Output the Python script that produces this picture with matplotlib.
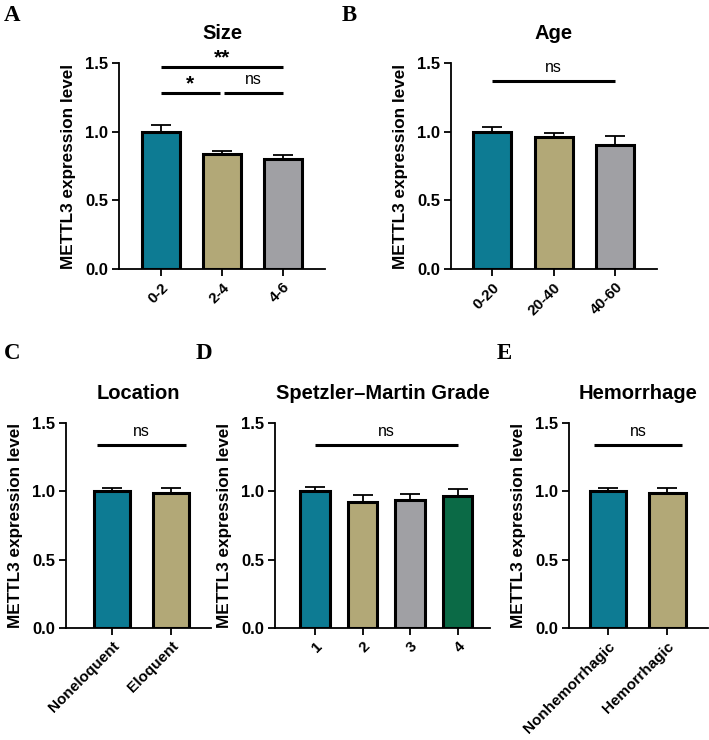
import matplotlib
matplotlib.use("Agg")
import matplotlib.pyplot as plt

plt.rcParams['font.family'] = ['Liberation Sans', 'DejaVu Sans']

# ---------------- data ----------------
size_cats = ["0-2", "2-4", "4-6"]
size_vals = [1.00, 0.84, 0.80]
size_errs = [0.045, 0.022, 0.03]

age_cats = ["0-20", "20-40", "40-60"]
age_vals = [1.00, 0.96, 0.905]
age_errs = [0.035, 0.032, 0.06]

loc_cats = ["Noneloquent", "Eloquent"]
loc_vals = [1.00, 0.99]
loc_errs = [0.027, 0.035]

grade_cats = ["1", "2", "3", "4"]
grade_vals = [1.00, 0.925, 0.935, 0.965]
grade_errs = [0.035, 0.045, 0.042, 0.055]

hem_cats = ["Nonhemorrhagic", "Hemorrhagic"]
hem_vals = [1.00, 0.99]
hem_errs = [0.027, 0.037]

colors = ["#0D7B93", "#B2A877", "#A0A0A4", "#0B6A46"]

W, H = 709, 740
fig = plt.figure(figsize=(W / 100, H / 100), dpi=100)


def make_ax(left, right, bottom, top):
    return fig.add_axes([left / W, 1 - bottom / H, (right - left) / W, (bottom - top) / H])


def panel(ax, cats, vals, errs, title, xlim, brackets):
    x = list(range(len(cats)))
    ax.bar(x, vals, width=0.62, color=colors[:len(cats)], edgecolor="black",
           linewidth=2.2, zorder=2)
    ax.errorbar(x, vals, yerr=[[0] * len(errs), errs], fmt="none", ecolor="black",
                elinewidth=1.3, capsize=7.5, capthick=1.3, zorder=1)
    ax.set_xlim(*xlim)
    ax.set_ylim(0, 1.5)
    ax.set_yticks([0.0, 0.5, 1.0, 1.5])
    ax.set_yticklabels(["0.0", "0.5", "1.0", "1.5"], fontweight="bold", fontsize=12)
    ax.set_xticks(x)
    ax.set_xticklabels(cats, rotation=45, ha="right", rotation_mode="anchor",
                       fontweight="bold", fontsize=11)
    for s in ["top", "right"]:
        ax.spines[s].set_visible(False)
    for s in ["left", "bottom"]:
        ax.spines[s].set_linewidth(1.3)
    ax.tick_params(axis="both", direction="out", length=5, width=1.3, pad=3)
    ax.set_ylabel("METTL3 expression level", fontweight="bold", fontsize=12.3, labelpad=6)
    ax.set_title(title, fontweight="bold", fontsize=14.5, pad=17)
    for (x0, x1, y, label) in brackets:
        ax.plot([x0, x1], [y, y], color="black", lw=2.2, clip_on=False,
                solid_capstyle="butt")
        if "*" in label:
            ax.text((x0 + x1) / 2, y + 0.07, label, ha="center", va="center",
                    fontsize=15, fontweight="bold", clip_on=False)
        else:
            ax.text((x0 + x1) / 2, y + 0.1, label, ha="center", va="center",
                    fontsize=11.5, clip_on=False)


axA = make_ax(119, 325, 269, 63)
panel(axA, size_cats, size_vals, size_errs, "Size", (-0.69, 2.69),
      [(0, 2, 1.47, "**"), (0, 0.96, 1.28, "*"), (1.04, 2, 1.28, "ns")])

axB = make_ax(451, 657, 269, 63)
panel(axB, age_cats, age_vals, age_errs, "Age", (-0.67, 2.68),
      [(0, 2, 1.37, "ns")])

axC = make_ax(66, 211, 628, 423)
panel(axC, loc_cats, loc_vals, loc_errs, "Location", (-0.78, 1.68),
      [(-0.25, 1.25, 1.34, "ns")])

axD = make_ax(275, 490, 628, 423)
panel(axD, grade_cats, grade_vals, grade_errs, "Spetzler\u2013Martin Grade", (-0.84, 3.68),
      [(0, 3, 1.34, "ns")])

axE = make_ax(569, 708, 628, 423)
panel(axE, hem_cats, hem_vals, hem_errs, "Hemorrhage", (-0.66, 1.69),
      [(-0.24, 1.25, 1.34, "ns")])

for letter, px, py in [("A", 4, 5), ("B", 342, 5), ("C", 4, 343), ("D", 196, 343), ("E", 497, 343)]:
    fig.text(px / W, 1 - py / H, letter, family="Liberation Serif", fontweight="bold",
             fontsize=16.5, ha="left", va="top")

fig.savefig("out.png", dpi=100)
